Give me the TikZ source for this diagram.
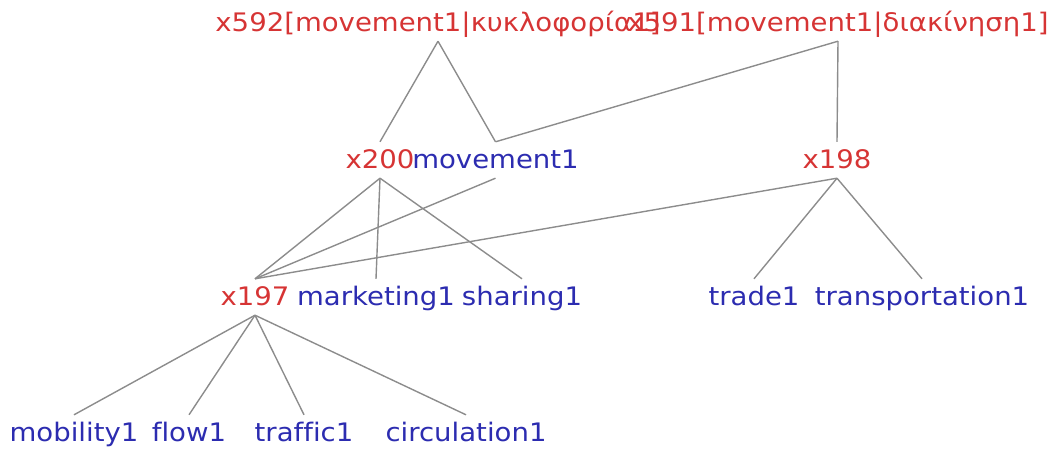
\documentclass[tikz,border=0pt]{standalone}
\usepackage{fontspec}
\setmainfont[FakeStretch=1.08, Ligatures=NoCommon]{DejaVu Sans}
\usepackage{xcolor}
\usepackage{tikz}
\usetikzlibrary{positioning}
\definecolor{synred}{RGB}{214,52,52}
\definecolor{wordblue}{RGB}{44,44,176}
\definecolor{linkgray}{RGB}{140,140,140}

\begin{document}
\begin{tikzpicture}[
  x=1pt, y=-1pt,
  lbl/.style={inner xsep=0pt, inner ysep=6pt, text height=20pt, text depth=4pt,
              font=\fontsize{25.5}{30}\selectfont},
  syn/.style={lbl, text=synred},
  word/.style={lbl, text=wordblue},
  link/.style={draw=linkgray, line width=1.4pt}
]
  \useasboundingbox (0,0) rectangle (1061,450);

  % top synsets
  \node[syn] (x592) at (438,23) {x592[movement1|κυκλοφορία1]};
  \node[syn] (x591) at (838,23) {x591[movement1|διακίνηση1]};

  % second row
  \node[syn]  (x200) at (380,160) {x200};
  \node[word] (movement) at (495.5,160) {movement1};
  \node[syn]  (x198) at (837,160) {x198};

  % third row
  \node[syn]  (x197) at (255,297) {x197};
  \node[word] (marketing) at (376,297) {marketing1};
  \node[word] (sharing) at (522,297) {sharing1};
  \node[word] (trade) at (754,297) {trade1};
  \node[word] (transportation) at (922,297) {transportation1};

  % bottom row
  \node[word] (mobility) at (74,433) {mobility1};
  \node[word] (flow) at (189,433) {flow1};
  \node[word] (traffic) at (304,433) {traffic1};
  \node[word] (circulation) at (466,433) {circulation1};

  \draw[link] (x592.south) -- (x200.north);
  \draw[link] (x592.south) -- (movement.north);
  \draw[link] (x591.south) -- (movement.north);
  \draw[link] (x591.south) -- (x198.north);

  \draw[link] (x200.south) -- (x197.north);
  \draw[link] (x200.south) -- (marketing.north);
  \draw[link] (x200.south) -- (sharing.north);
  \draw[link] (movement.south) -- (x197.north);
  \draw[link] (x198.south) -- (x197.north);
  \draw[link] (x198.south) -- (trade.north);
  \draw[link] (x198.south) -- (transportation.north);

  \draw[link] (x197.south) -- (mobility.north);
  \draw[link] (x197.south) -- (flow.north);
  \draw[link] (x197.south) -- (traffic.north);
  \draw[link] (x197.south) -- (circulation.north);
\end{tikzpicture}
\end{document}
